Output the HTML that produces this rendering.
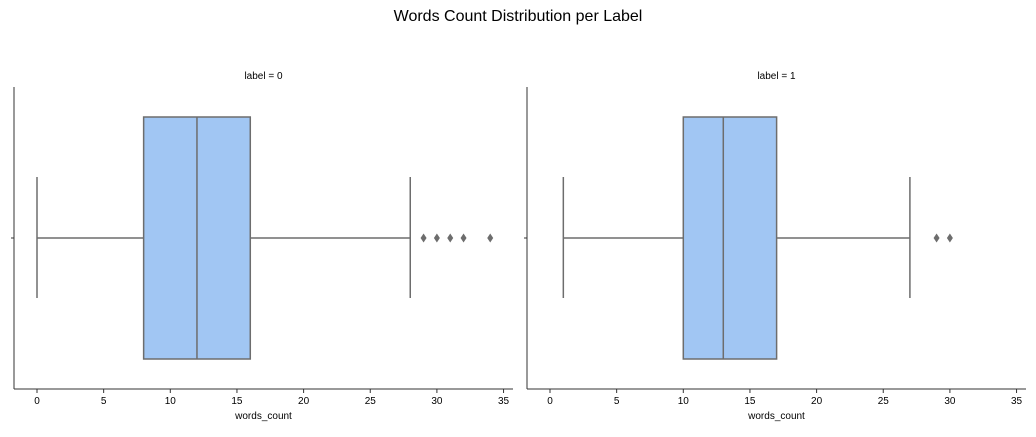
<!DOCTYPE html>
<html><head><meta charset="utf-8"><style>
body{margin:0;background:#fff;font-family:"Liberation Sans",sans-serif;}
</style></head><body>
<svg id="chart" width="1036" height="432" xmlns="http://www.w3.org/2000/svg">
<text x="518" y="21" text-anchor="middle" font-size="16">Words Count Distribution per Label</text>
</svg>
<script>
const panelLabels = ["label = 0", "label = 1"];
const whiskerLow = [0, 1];
const q1 = [8, 10];
const median = [12, 13];
const q3 = [16, 17];
const whiskerHigh = [28, 27];
const outliers = [[29, 30, 31, 32, 34], [29, 30]];
const xTicks = [0, 5, 10, 15, 20, 25, 30, 35];

const svgEl = document.getElementById('chart');
const NS = 'http://www.w3.org/2000/svg';
function mk(tag, attrs, parent) {
  const e = document.createElementNS(NS, tag);
  for (const k in attrs) e.setAttribute(k, attrs[k]);
  (parent || svgEl).appendChild(e);
  return e;
}
const panels = [{x0: 14, x1: 513, zero: 37}, {x0: 527, x1: 1026, zero: 550}];
const pxScale = 13.33, plotTop = 87, plotBottom = 389, cy = 238;
const gray = '#6d6d6d';
panels.forEach((p, i) => {
  const g = mk('g', {});
  
  
  const X = v => p.zero + v * pxScale;
  const t = mk('text', {x: (p.x0 + p.x1) / 2, y: 79, 'text-anchor': 'middle', 'font-size': 10}, g);
  t.textContent = panelLabels[i];
  
  
  const ya = mk('line', {x1: p.x0, y1: plotTop, x2: p.x0, y2: plotBottom, stroke: '#333', 'stroke-width': 1}, g);
  
  
  mk('line', {x1: p.x0 - 3, y1: cy, x2: p.x0, y2: cy, stroke: '#333'}, g);
  const xa = mk('line', {x1: p.x0, y1: plotBottom, x2: p.x1, y2: plotBottom, stroke: '#333', 'stroke-width': 1}, g);
  
  
  xTicks.forEach(v => {
    mk('line', {x1: X(v), y1: plotBottom, x2: X(v), y2: plotBottom + 4, stroke: '#333'}, g);
    const tl = mk('text', {x: X(v), y: plotBottom + 15, 'text-anchor': 'middle', 'font-size': 10}, g);
    tl.textContent = v;
    
    
  });
  const xt = mk('text', {x: (p.x0 + p.x1) / 2, y: 419, 'text-anchor': 'middle', 'font-size': 10}, g);
  xt.textContent = 'words_count';
  
  
  mk('line', {x1: X(whiskerLow[i]), y1: cy, x2: X(q1[i]), y2: cy, stroke: gray, 'stroke-width': 1.5}, g);
  mk('line', {x1: X(q3[i]), y1: cy, x2: X(whiskerHigh[i]), y2: cy, stroke: gray, 'stroke-width': 1.5}, g);
  mk('line', {x1: X(whiskerLow[i]), y1: 177, x2: X(whiskerLow[i]), y2: 298, stroke: gray, 'stroke-width': 1.5}, g);
  mk('line', {x1: X(whiskerHigh[i]), y1: 177, x2: X(whiskerHigh[i]), y2: 298, stroke: gray, 'stroke-width': 1.5}, g);
  const box = mk('rect', {x: X(q1[i]), y: 117, width: X(q3[i]) - X(q1[i]), height: 242, fill: '#a1c6f3', stroke: gray, 'stroke-width': 1.5}, g);
  
  
  mk('line', {x1: X(median[i]), y1: 117, x2: X(median[i]), y2: 359, stroke: gray, 'stroke-width': 1.5}, g);
  outliers[i].forEach(v => {
    const o = mk('path', {d: `M${X(v)},${cy - 4.5} L${X(v) + 3},${cy} L${X(v)},${cy + 4.5} L${X(v) - 3},${cy} Z`, fill: gray}, g);
    
    
  });
});
</script>
</body></html>
